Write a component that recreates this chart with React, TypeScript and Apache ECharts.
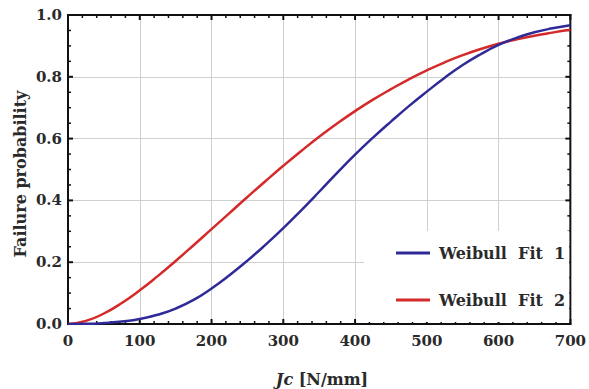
import React, { useEffect, useRef } from "react";
import * as echarts from "echarts";

const jcValues = [0, 25, 50, 75, 100, 125, 150, 175, 200, 225, 250, 275, 300, 325, 350, 375, 400, 425, 450, 475, 500, 525, 550, 575, 600, 625, 650, 675, 700];
const fit1Values = [0, 0.0005, 0.003, 0.008, 0.016, 0.03, 0.05, 0.078, 0.115, 0.158, 0.205, 0.256, 0.31, 0.368, 0.428, 0.489, 0.548, 0.603, 0.655, 0.705, 0.752, 0.797, 0.838, 0.873, 0.903, 0.926, 0.944, 0.957, 0.967];
const fit2Values = [0, 0.01, 0.034, 0.068, 0.109, 0.155, 0.204, 0.255, 0.307, 0.359, 0.411, 0.462, 0.512, 0.56, 0.606, 0.649, 0.689, 0.726, 0.76, 0.792, 0.821, 0.847, 0.87, 0.89, 0.907, 0.921, 0.933, 0.943, 0.952];
const seriesNames = ["Weibull Fit 1", "Weibull Fit 2"];
const xTicks = [0, 100, 200, 300, 400, 500, 600, 700];
const yTicks = [0, 0.2, 0.4, 0.6, 0.8, 1.0];
const xMinorSplits = 5;
const yMinorSplits = 4;
const xAxisTitle = "{i|Jc} [N/mm]";
const yAxisTitle = "Failure probability";

const FONT = "DejaVu Serif";

function minorTicksOf(major: number[], splits: number): number[] {
  const out: number[] = [];
  for (let i = 0; i < major.length - 1; i++) {
    const step = (major[i + 1] - major[i]) / splits;
    for (let k = 1; k < splits; k++) out.push(major[i] + step * k);
  }
  return out;
}

export default function App() {
  const ref = useRef<HTMLDivElement>(null);
  useEffect(() => {
    if (!ref.current) return;
    const chart = echarts.init(ref.current, null, { renderer: "svg" });
    const xMin = xTicks[0];
    const xMax = xTicks[xTicks.length - 1];
    const yMin = yTicks[0];
    const yMax = yTicks[yTicks.length - 1];
    const xMinor = minorTicksOf(xTicks, xMinorSplits);
    const yMinor = minorTicksOf(yTicks, yMinorSplits);
    const label = { fontFamily: FONT, fontWeight: "bold", fontSize: 15, color: "#2a2a2a" };

    const renderFrame = (_params: any, api: any) => {
      const p = (x: number, y: number) => api.coord([x, y]);
      const [x0, y0] = p(xMin, yMin);
      const [x1, y1] = p(xMax, yMax);
      const children: any[] = [];
      const ln = (a: number, b: number, c: number, d: number, w: number, cap = "butt") =>
        children.push({ type: "line", silent: true, shape: { x1: a, y1: b, x2: c, y2: d }, style: { stroke: "#111", lineWidth: w, lineCap: cap } });
      xTicks.forEach((v) => {
        const x = p(v, yMin)[0];
        ln(x, y0, x, y0 - 5, 2);
        ln(x, y1, x, y1 + 5, 2);
      });
      xMinor.forEach((v) => {
        const x = p(v, yMin)[0];
        ln(x, y0, x, y0 - 3, 1.5);
        ln(x, y1, x, y1 + 3, 1.5);
      });
      yTicks.forEach((v) => {
        const y = p(xMin, v)[1];
        ln(x0, y, x0 + 5, y, 2);
        ln(x1, y, x1 - 5, y, 2);
      });
      yMinor.forEach((v) => {
        const y = p(xMin, v)[1];
        ln(x0, y, x0 + 3, y, 1.5);
        ln(x1, y, x1 - 3, y, 1.5);
      });
      ln(x0, y0, x1, y0, 2, "square");
      ln(x0, y1, x1, y1, 2, "square");
      ln(x0, y0, x0, y1, 2, "square");
      ln(x1, y0, x1, y1, 2, "square");
      return { type: "group", children };
    };

    chart.setOption({
      animation: false,
      grid: { left: 68, right: 14, top: 15, bottom: 65 },
      xAxis: {
        type: "value", min: xMin, max: xMax, interval: 100,
        axisLine: { show: false, onZero: false },
        axisTick: { show: false },
        splitLine: { show: true, lineStyle: { color: "#cfcfcf", width: 1 } },
        axisLabel: { ...label, margin: 9 },
      },
      yAxis: {
        type: "value", min: yMin, max: yMax, interval: 0.2,
        axisLine: { show: false, onZero: false },
        axisTick: { show: false },
        splitLine: { show: true, lineStyle: { color: "#cfcfcf", width: 1 } },
        axisLabel: { ...label, margin: 6, formatter: (v: number) => Number(v).toFixed(1) },
      },
      graphic: [
        {
          type: "text",
          x: 322,
          y: 379,
          style: {
            text: xAxisTitle,
            fontFamily: FONT,
            fontWeight: "bold",
            fontSize: 16,
            fill: "#2a2a2a",
            align: "center",
            verticalAlign: "middle",
            rich: { i: { fontFamily: FONT, fontStyle: "italic", fontWeight: "bold", fontSize: 16, fill: "#2a2a2a" } },
          },
        },
        {
          type: "text",
          x: 20,
          y: 174,
          rotation: Math.PI / 2,
          style: {
            text: yAxisTitle,
            fontFamily: FONT,
            fontWeight: "bold",
            fontSize: 16,
            fill: "#2a2a2a",
            align: "center",
            verticalAlign: "middle",
          },
        },
      ],
      legend: {
        orient: "vertical",
        left: 364,
        top: 231,
        padding: [14, 4, 14, 32],
        itemGap: 31,
        itemWidth: 34,
        itemHeight: 3,
        icon: "rect",
        backgroundColor: "#ffffff",
        formatter: (n: string) => n.replace(/ /g, "  "),
        textStyle: { fontFamily: FONT, fontWeight: "bold", fontSize: 16, color: "#2a2a2a", padding: [0, 0, 0, 4] },
        data: seriesNames,
      },
      series: [
        {
          type: "custom",
          name: "frame",
          silent: true,
          clip: false,
          z: 1,
          renderItem: renderFrame,
          data: [[xMin, yMin]],
        },
        {
          name: seriesNames[0],
          type: "line",
          showSymbol: false,
          smooth: true,
          color: "#2f2a98",
          lineStyle: { width: 2.5, color: "#2f2a98" },
          data: jcValues.map((x, i) => [x, fit1Values[i]]),
          z: 3,
        },
        {
          name: seriesNames[1],
          type: "line",
          showSymbol: false,
          smooth: true,
          color: "#d42a2a",
          lineStyle: { width: 2.5, color: "#d42a2a" },
          data: jcValues.map((x, i) => [x, fit2Values[i]]),
          z: 2,
        },
      ],
    });
    return () => chart.dispose();
  }, []);
  return <div ref={ref} style={{ width: 589, height: 389, position: "absolute", left: 0, top: 0 }} />;
}
